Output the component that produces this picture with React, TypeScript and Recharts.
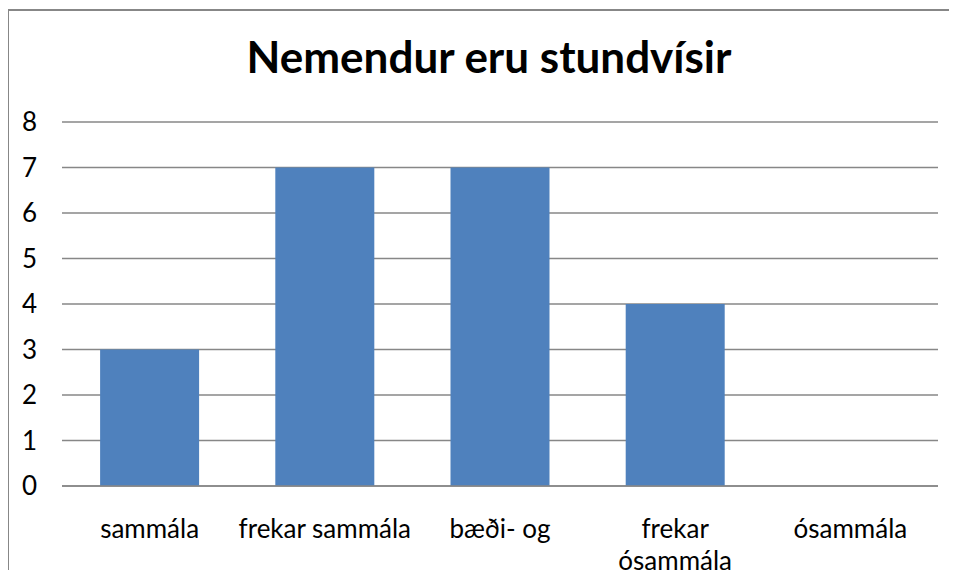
import { Bar, BarChart, CartesianGrid, XAxis, YAxis } from "recharts";

// tick labels, one entry per line as in the original chart
const categoryLines = [
  ["sammála"],
  ["frekar sammála"],
  ["bæði- og"],
  ["frekar", "ósammála"],
  ["ósammála"],
];
const answers = [3, 7, 7, 4, 0];
const yTicks = [0, 1, 2, 3, 4, 5, 6, 7, 8];

const categories = categoryLines.map((lines) => lines.join(" "));
const chartData = categories.map((name, i) => ({ name, value: answers[i] }));

const FONT = "Lato, 'Open Sans', sans-serif";
const GRID = "#878787";

const CategoryTick = ({ x, y, index }: any) => {
  const lines = categoryLines[index] || [];
  return (
    <text
      x={x}
      y={y + 44}
      textAnchor="middle"
      fontSize={26}
      fontFamily={FONT}
      fill="#000"
    >
      {lines.map((line, i) => (
        <tspan key={i} x={x} dy={i === 0 ? 0 : 32}>
          {line}
        </tspan>
      ))}
    </text>
  );
};

const App = () => {
  return (
    <div
      style={{
        position: "relative",
        width: 957,
        height: 578,
        margin: -8,
        overflow: "hidden",
        background: "#fff",
        fontFamily: FONT,
      }}
    >
      <div
        style={{
          position: "absolute",
          left: 7,
          top: 9,
          width: 980,
          height: 620,
          border: `2px solid ${GRID}`,
        }}
      />
      <div
        style={{
          position: "absolute",
          left: 0,
          top: 34,
          width: 978,
          textAlign: "center",
          fontSize: 44,
          lineHeight: "44px",
          fontWeight: 700,
          color: "#000",
        }}
      >
        Nemendur eru stundvísir
      </div>
      <div style={{ position: "absolute", left: 0, top: 0 }}>
        <BarChart
          width={957}
          height={578}
          data={chartData}
          margin={{ top: 122, right: 19, bottom: 0, left: 0 }}
          barCategoryGap="21.75%"
        >
          <CartesianGrid vertical={false} stroke={GRID} strokeWidth={1.5} />
          <XAxis
            dataKey="name"
            height={92}
            axisLine={{ stroke: GRID, strokeWidth: 1.5 }}
            tickLine={false}
            interval={0}
            tick={<CategoryTick />}
          />
          <YAxis
            width={62}
            domain={[0, 8]}
            ticks={yTicks}
            axisLine={false}
            tickLine={false}
            tickSize={0}
            tickMargin={25}
            tick={{ fontSize: 26, fill: "#000", fontFamily: FONT }}
          />
          <Bar dataKey="value" fill="#4F81BD" isAnimationActive={false} />
        </BarChart>
      </div>
    </div>
  );
};

export default App;
